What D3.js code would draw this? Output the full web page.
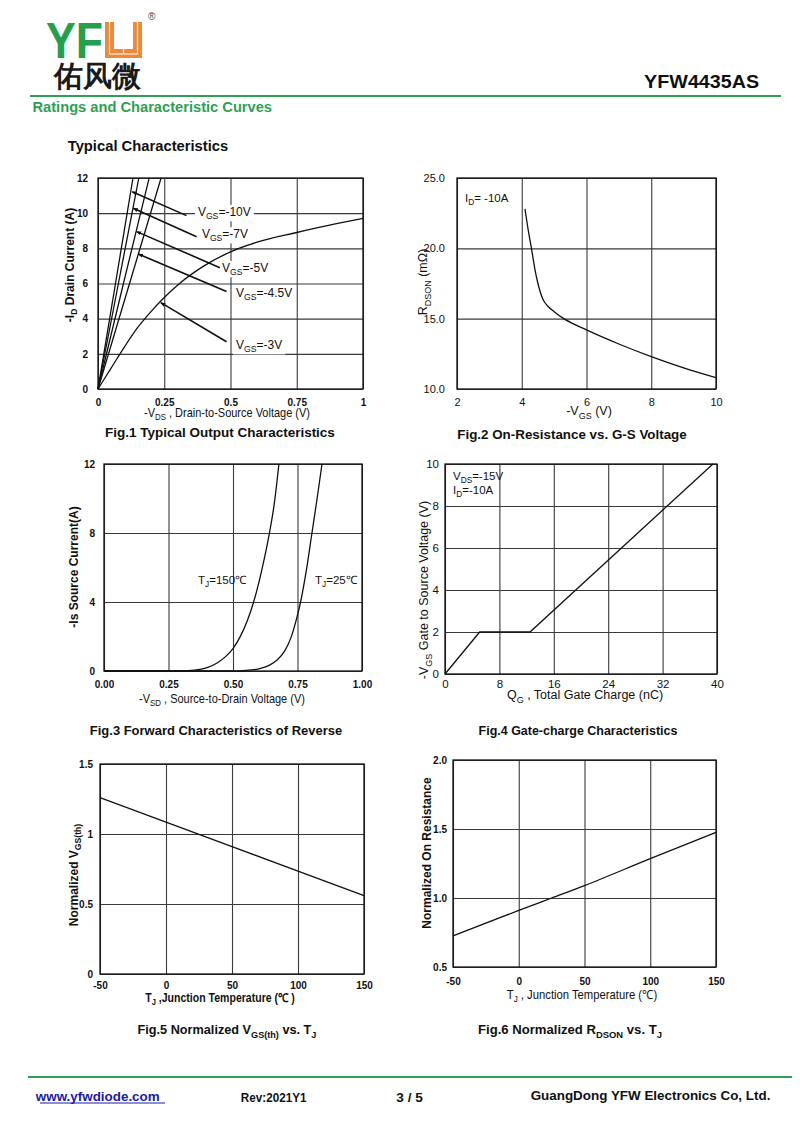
<!DOCTYPE html>
<html>
<head>
<meta charset="utf-8">
<script src="https://cdn.jsdelivr.net/npm/d3@7"></script>
<style>
  body { margin: 0; background: #fff; }
  svg { display: block; }
  text { font-family: "Liberation Sans", Arial, sans-serif; }
</style>
</head>
<body>
<div id="page"></div>
<script>
// ---- Données ----

// Fig.1 sortie
const fig1XTicks = [0, 0.25, 0.5, 0.75, 1];
const fig1YTicks = [0, 2, 4, 6, 8, 10, 12];
const fig1Vgs10 = [[0, 0], [0.066, 6], [0.132, 12]];
const fig1Vgs7 = [[0, 0], [0.077, 6], [0.154, 12]];
const fig1Vgs5 = [[0, 0], [0.096, 6], [0.193, 12]];
const fig1Vgs45 = [[0, 0], [0.119, 6], [0.238, 12]];
const fig1Vgs3 = [[0, 0], [0.05, 1.2], [0.1, 2.4], [0.15, 3.5], [0.2, 4.4], [0.25, 5.2], [0.3, 5.9],
                  [0.4, 7.0], [0.5, 7.8], [0.6, 8.35], [0.75, 8.9], [0.9, 9.4], [1, 9.7]];
const fig1Labels = ["-10V", "-7V", "-5V", "-4.5V", "-3V"];
const fig1ArrowTips = [[0.129, 11.22], [0.133, 10.28], [0.146, 8.95], [0.152, 7.68], [0.237, 4.91]];
const fig1ArrowTails = [[0.334, 9.86], [0.372, 8.66], [0.46, 6.9], [0.485, 5.54], [0.485, 2.69]];
const fig1LabelAt = [[0.377, 10.07], [0.392, 8.81], [0.468, 6.88], [0.521, 5.46], [0.521, 2.5]];

// Fig.2 RDSON vs VGS
const fig2XTicks = [2, 4, 6, 8, 10];
const fig2YTicks = [10, 15, 20, 25];
const fig2Rdson = [[4.1, 22.8], [4.2, 21.3], [4.3, 20.0], [4.4, 18.6], [4.5, 17.5], [4.65, 16.4],
                   [4.8, 15.9], [5.0, 15.5], [5.3, 15.0], [6, 14.2], [7, 13.2], [8, 12.3], [9, 11.5], [10, 10.8]];

// Fig.3 diode
const fig3XTicks = [0, 0.25, 0.5, 0.75, 1];
const fig3YTicks = [0, 4, 8, 12];
const fig3Tj150 = [[0, 0], [0.3, 0.01], [0.35, 0.05], [0.4, 0.2], [0.44, 0.48], [0.47, 0.82], [0.5, 1.3],
                   [0.53, 2.05], [0.555, 2.9], [0.58, 4.0], [0.61, 5.75], [0.64, 7.9], [0.66, 9.7], [0.678, 12]];
const fig3Tj25 = [[0, 0], [0.5, 0], [0.55, 0.03], [0.6, 0.13], [0.64, 0.33], [0.67, 0.62], [0.7, 1.15],
                  [0.725, 1.95], [0.745, 2.95], [0.762, 4.0], [0.785, 5.9], [0.806, 8.0], [0.826, 10], [0.845, 12]];

// Fig.4 charge de grille
const fig4XTicks = [0, 8, 16, 24, 32, 40];
const fig4YTicks = [0, 2, 4, 6, 8, 10];
const fig4Vgs = [[0, 0], [5.1, 2], [12.5, 2], [39.4, 10]];

// Fig.5 VGS(th) normalisé
const fig5XTicks = [-50, 0, 50, 100, 150];
const fig5YTicks = [0, 0.5, 1, 1.5];
const fig5Vth = [[-50, 1.26], [0, 1.085], [50, 0.91], [100, 0.735], [150, 0.56]];

// Fig.6 RDSON normalisé
const fig6XTicks = [-50, 0, 50, 100, 150];
const fig6YTicks = [0.5, 1.0, 1.5, 2.0];
const fig6Rdson = [[-50, 0.725], [0, 0.91], [25, 1.0], [50, 1.09], [100, 1.285], [150, 1.475]];

// ---- Page ----
const W = 800, H = 1137;
const GREEN = "#2e9f55";
const INK = "#111";

const svg = d3.select("#page").append("svg")
    .attr("width", W).attr("height", H)
    .attr("viewBox", `0 0 ${W} ${H}`);

svg.append("rect").attr("width", W).attr("height", H).attr("fill", "#fff");

const defs = svg.append("defs");
defs.append("marker")
    .attr("id", "arrow")
    .attr("viewBox", "0 0 10 10")
    .attr("refX", 9).attr("refY", 5)
    .attr("markerWidth", 5).attr("markerHeight", 5)
    .attr("markerUnits", "userSpaceOnUse")
    .attr("orient", "auto")
    .append("path").attr("d", "M0,1 L10,5 L0,9 Z").attr("fill", INK);

// texte avec indices
function rich(sel, parts, size) {
    let shift = 0;
    parts.forEach(p => {
        const isSub = p[1] === "sub";
        const target = isSub ? size * 0.28 : 0;
        sel.append("tspan")
            .attr("dy", target - shift)
            .attr("font-size", isSub ? size * 0.72 : size)
            .text(p[0]);
        shift = target;
    });
    return sel;
}

// ajuste la largeur d'un texte (police condensée de l'original)
function fitWidth(sel, target) {
    const bb = sel.node().getBBox();
    if (!bb.width) return;
    const cx = bb.x + bb.width / 2;
    const s = target / bb.width;
    sel.attr("transform", `translate(${cx},0) scale(${s},1) translate(${-cx},0)`);
}

function label(x, y, parts, opts) {
    const o = Object.assign({ size: 12, weight: "normal", anchor: "start", width: null, rotate: false, fill: INK }, opts);
    const t = svg.append("text")
        .attr("x", x).attr("y", y)
        .attr("font-size", o.size)
        .attr("font-weight", o.weight)
        .attr("text-anchor", o.anchor)
        .attr("fill", o.fill);
    rich(t, typeof parts === "string" ? [[parts]] : parts, o.size);
    if (o.width) fitWidth(t, o.width);
    if (o.rotate) t.attr("transform", `rotate(-90,${x},${y})`);
    return t;
}

// ---- En-tête ----
svg.append("text").attr("x", 46).attr("y", 58)
    .attr("font-size", 50).attr("font-weight", "bold").attr("fill", "#22a04b")
    .attr("textLength", 57).attr("lengthAdjust", "spacingAndGlyphs")
    .text("YF");
svg.append("path")
    .attr("d", "M105,22 H114 V49 H133 V22 H142 V58 H105 Z")
    .attr("fill", "#ec8a3a");
svg.append("path")
    .attr("d", "M109.5,22 V54 H137.5 V22 M123.5,40 V54")
    .attr("fill", "none").attr("stroke", "#fff").attr("stroke-width", 1.2);
svg.append("text").attr("x", 148).attr("y", 20).attr("font-size", 10).attr("fill", "#444").text("®");
svg.append("text").attr("x", 54).attr("y", 86)
    .attr("font-family", "'Noto Sans CJK SC', sans-serif")
    .attr("font-size", 29).attr("font-weight", "bold").attr("fill", "#1a1a1a")
    .text("佑风微");

label(757, 88, "YFW4435AS", { size: 19, weight: "bold", anchor: "end", width: 115 });
svg.append("line").attr("x1", 30).attr("x2", 781).attr("y1", 96).attr("y2", 96)
    .attr("stroke", GREEN).attr("stroke-width", 2);
label(38, 112, "Ratings and Characteristic Curves", { size: 14, weight: "bold", fill: GREEN, width: 240 });
label(72, 151, "Typical Characteristics", { size: 14, weight: "bold", width: 161 });

// ---- Graphiques ----
function drawPlot(cfg) {
    const g = svg.append("g");
    const x = d3.scaleLinear().domain(cfg.xDomain).range([cfg.left, cfg.right]);
    const y = d3.scaleLinear().domain(cfg.yDomain).range([cfg.bottom, cfg.top]);
    const w = cfg.right - cfg.left, h = cfg.bottom - cfg.top;

    const styleAxis = a => {
        a.select(".domain").remove();
        a.attr("font-family", null).attr("font-size", null);
        a.selectAll(".tick line").attr("stroke", "#3a3a3a").attr("stroke-width", 1.1);
        a.selectAll(".tick text")
            .attr("font-size", cfg.tickSize)
            .attr("font-weight", cfg.tickWeight)
            .attr("fill", INK);
    };

    g.append("g")
        .attr("transform", `translate(0,${cfg.bottom})`)
        .call(d3.axisBottom(x).tickValues(cfg.xTicks).tickSize(-h)
            .tickPadding(cfg.xPad).tickFormat(cfg.xFmt || (d => d)))
        .call(styleAxis);

    g.append("g")
        .attr("transform", `translate(${cfg.left},0)`)
        .call(d3.axisLeft(y).tickValues(cfg.yTicks).tickSize(-w)
            .tickPadding(cfg.yPad).tickFormat(cfg.yFmt || (d => d)))
        .call(styleAxis);

    g.append("rect")
        .attr("x", cfg.left).attr("y", cfg.top)
        .attr("width", w).attr("height", h)
        .attr("fill", "none").attr("stroke", INK).attr("stroke-width", 1.3);

    const line = d3.line()
        .x(d => x(d[0])).y(d => y(d[1]))
        .curve(cfg.curve || d3.curveMonotoneX);

    cfg.series.forEach(s => {
        g.append("path")
            .datum(s)
            .attr("d", line)
            .attr("fill", "none")
            .attr("stroke", INK)
            .attr("stroke-width", 1.3);
    });

    return { g, x, y };
}

// Fig.1
const p1 = drawPlot({
    left: 98, right: 363, top: 178, bottom: 389,
    xDomain: [0, 1], yDomain: [0, 12],
    xTicks: fig1XTicks, yTicks: fig1YTicks,
    tickSize: 10, tickWeight: "bold", xPad: 10, yPad: 10,
    series: [fig1Vgs10, fig1Vgs7, fig1Vgs5, fig1Vgs45, fig1Vgs3]
});
fig1Labels.forEach((lab, i) => {
    const t = p1.g.append("text")
        .attr("x", p1.x(fig1LabelAt[i][0]))
        .attr("y", p1.y(fig1LabelAt[i][1]) + 4)
        .attr("font-size", 12).attr("fill", INK);
    rich(t, [["V"], ["GS", "sub"], ["=" + lab]], 12);
    const bb = t.node().getBBox();
    p1.g.insert("rect", () => t.node())
        .attr("x", bb.x - 3).attr("y", bb.y)
        .attr("width", bb.width + 6).attr("height", bb.height)
        .attr("fill", "#fff");
    p1.g.append("line")
        .attr("x1", p1.x(fig1ArrowTails[i][0])).attr("y1", p1.y(fig1ArrowTails[i][1]))
        .attr("x2", p1.x(fig1ArrowTips[i][0])).attr("y2", p1.y(fig1ArrowTips[i][1]))
        .attr("stroke", INK).attr("stroke-width", 1.6)
        .attr("marker-end", "url(#arrow)");
});
label(74, 265, [["-I"], ["D", "sub"], [" Drain Current (A)"]], { size: 12, weight: "bold", anchor: "middle", rotate: true });
label(227, 417, [["-V"], ["DS", "sub"], [" , Drain-to-Source Voltage (V)"]], { size: 12, anchor: "middle", width: 166 });
label(220, 437, "Fig.1 Typical Output Characteristics", { size: 13.5, weight: "bold", anchor: "middle", width: 230 });

// Fig.2
const p2 = drawPlot({
    left: 457, right: 716, top: 178, bottom: 389,
    xDomain: [2, 10], yDomain: [10, 25],
    xTicks: fig2XTicks, yTicks: fig2YTicks, yFmt: d3.format(".1f"),
    tickSize: 11, tickWeight: "normal", xPad: 9, yPad: 12,
    series: [fig2Rdson]
});
p2.g.append("text").attr("x", 465).attr("y", 202).attr("font-size", 11.5).attr("fill", INK)
    .call(t => rich(t, [["I"], ["D", "sub"], ["= -10A"]], 11.5));
label(427, 282, [["R"], ["DSON", "sub"], [" (mΩ)"]], { size: 12.5, anchor: "middle", rotate: true });
label(589, 415, [["-V"], ["GS", "sub"], [" (V)"]], { size: 12.5, anchor: "middle" });
label(572, 439, "Fig.2 On-Resistance vs. G-S Voltage", { size: 13.5, weight: "bold", anchor: "middle", width: 230 });

// Fig.3
const p3 = drawPlot({
    left: 104, right: 362, top: 464, bottom: 671,
    xDomain: [0, 1], yDomain: [0, 12],
    xTicks: fig3XTicks, yTicks: fig3YTicks, xFmt: d3.format(".2f"),
    tickSize: 10, tickWeight: "bold", xPad: 10, yPad: 9,
    series: [fig3Tj150, fig3Tj25]
});
p3.g.append("text").attr("x", 198).attr("y", 584).attr("font-size", 11.5).attr("fill", INK)
    .call(t => rich(t, [["T"], ["J", "sub"], ["=150℃"]], 11.5));
p3.g.append("text").attr("x", 315).attr("y", 584).attr("font-size", 11.5).attr("fill", INK)
    .call(t => rich(t, [["T"], ["J", "sub"], ["=25℃"]], 11.5));
label(78, 567, "-Is Source Current(A)", { size: 12, weight: "bold", anchor: "middle", rotate: true });
label(222, 703, [["-V"], ["SD", "sub"], [" , Source-to-Drain Voltage (V)"]], { size: 12.5, anchor: "middle", width: 166 });
label(216, 735, "Fig.3 Forward Characteristics of Reverse", { size: 13.5, weight: "bold", anchor: "middle", width: 253 });

// Fig.4
const p4 = drawPlot({
    left: 445, right: 717, top: 464, bottom: 674,
    xDomain: [0, 40], yDomain: [0, 10],
    xTicks: fig4XTicks, yTicks: fig4YTicks,
    tickSize: 11.5, tickWeight: "normal", xPad: 6, yPad: 6,
    curve: d3.curveLinear,
    series: [fig4Vgs]
});
p4.g.append("text").attr("x", 453).attr("y", 480).attr("font-size", 11.5).attr("fill", INK)
    .call(t => rich(t, [["V"], ["DS", "sub"], ["=-15V"]], 11.5));
p4.g.append("text").attr("x", 453).attr("y", 494).attr("font-size", 11.5).attr("fill", INK)
    .call(t => rich(t, [["I"], ["D", "sub"], ["=-10A"]], 11.5));
label(428, 590, [["-V"], ["GS", "sub"], ["  Gate to Source Voltage (V)"]], { size: 12.5, anchor: "middle", rotate: true });
label(585, 699, [["Q"], ["G", "sub"], [" , Total Gate Charge (nC)"]], { size: 12.5, anchor: "middle" });
label(578, 735, "Fig.4 Gate-charge Characteristics", { size: 13.5, weight: "bold", anchor: "middle", width: 199 });

// Fig.5
const p5 = drawPlot({
    left: 100, right: 364, top: 764, bottom: 974,
    xDomain: [-50, 150], yDomain: [0, 1.5],
    xTicks: fig5XTicks, yTicks: fig5YTicks,
    tickSize: 10, tickWeight: "bold", xPad: 8, yPad: 7,
    curve: d3.curveLinear,
    series: [fig5Vth]
});
label(78, 875, [["Normalized V"], ["GS(th)", "sub"]], { size: 12, weight: "bold", anchor: "middle", rotate: true });
label(220, 1002, [["T"], ["J", "sub"], [" ,Junction Temperature (℃ )"]], { size: 12, weight: "bold", anchor: "middle", width: 150 });
label(227, 1034, [["Fig.5 Normalized V"], ["GS(th)", "sub"], [" vs. T"], ["J", "sub"]], { size: 13.5, weight: "bold", anchor: "middle", width: 179 });

// Fig.6
const p6 = drawPlot({
    left: 453, right: 716, top: 760, bottom: 967,
    xDomain: [-50, 150], yDomain: [0.5, 2.0],
    xTicks: fig6XTicks, yTicks: fig6YTicks, yFmt: d3.format(".1f"),
    tickSize: 10, tickWeight: "bold", xPad: 11, yPad: 6,
    series: [fig6Rdson]
});
label(431, 853, "Normalized On Resistance", { size: 12, weight: "bold", anchor: "middle", rotate: true });
label(582, 999, [["T"], ["J", "sub"], [" , Junction Temperature (℃)"]], { size: 12.5, anchor: "middle", width: 150 });
label(570, 1034, [["Fig.6 Normalized R"], ["DSON", "sub"], [" vs. T"], ["J", "sub"]], { size: 13.5, weight: "bold", anchor: "middle", width: 184 });

// ---- Pied de page ----
svg.append("line").attr("x1", 28).attr("x2", 792).attr("y1", 1077).attr("y2", 1077)
    .attr("stroke", GREEN).attr("stroke-width", 2);
label(40, 1101, "www.yfwdiode.com", { size: 12.5, weight: "bold", fill: "#1a1aa6", width: 125 });
svg.append("line").attr("x1", 40).attr("x2", 165).attr("y1", 1103).attr("y2", 1103)
    .attr("stroke", "#1a1aa6").attr("stroke-width", 1);
label(240, 1102, "Rev:2021Y1", { size: 12, weight: "bold", width: 66 });
label(398, 1102, "3 / 5", { size: 12, weight: "bold", width: 27 });
label(530, 1100, "GuangDong YFW Electronics Co, Ltd.", { size: 13.5, weight: "bold", width: 240 });
</script>
</body>
</html>
